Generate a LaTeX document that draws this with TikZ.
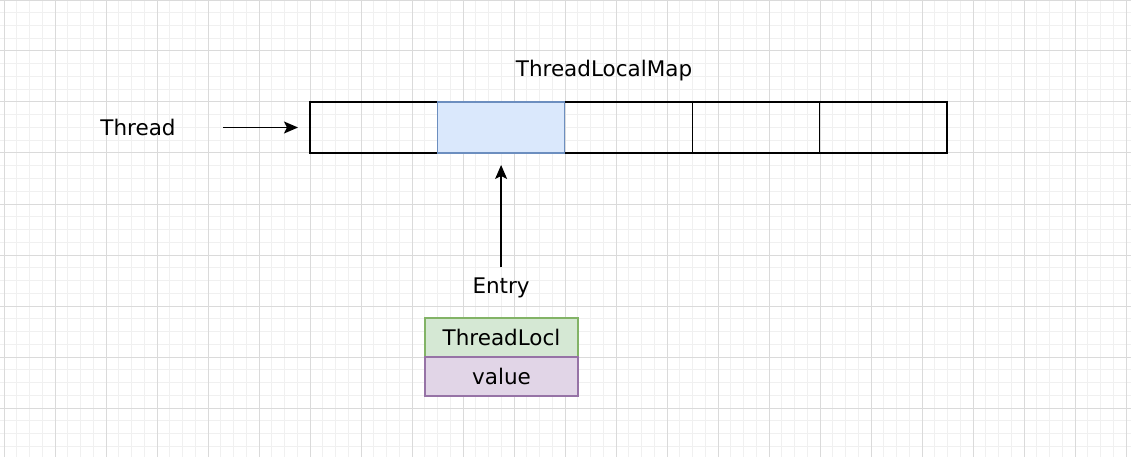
\documentclass[tikz,border=0pt]{standalone}
\usepackage{fontspec}
\setmainfont{DejaVu Sans}
\usetikzlibrary{arrows.meta}

\definecolor{gridminor}{HTML}{F0F0F0}
\definecolor{gridmajor}{HTML}{DADADA}
\definecolor{slotblue}{HTML}{DAE8FC}
\definecolor{slotblueline}{HTML}{6C8EBF}
\definecolor{keygreen}{HTML}{D5E8D4}
\definecolor{keygreenline}{HTML}{82B366}
\definecolor{valpurple}{HTML}{E1D5E7}
\definecolor{valpurpleline}{HTML}{9673A6}

\tikzset{
  slot/.style={draw, rectangle, line width=1.2pt, minimum width=127.4pt, minimum height=51pt, inner sep=0pt, outer sep=0pt},
  field/.style={draw, rectangle, line width=1.2pt, minimum width=153pt, minimum height=39pt, inner sep=0pt, outer sep=0pt},
  label/.style={font=\fontsize{21.5}{25}\selectfont},
  arr/.style={-{Stealth[length=14pt, width=12pt, inset=3pt]}, line width=1.3pt}
}

\begin{document}
\begin{tikzpicture}[x=1pt, y=-1pt]
		\useasboundingbox (0, 0) rectangle (1131, 457);
		% 背景のグリッド
		\fill[white] (0, 0) rectangle (1131, 457);
		\begin{scope}[shift={(4, 0)}, y=1pt]
			\draw[gridminor, line width=1pt, step=12.75] (-4, -457) grid (1127, 0);
			\draw[gridmajor, line width=1pt, step=51] (-4, -457) grid (1127, 0);
		\end{scope}

		% 配列のスロットを描画
		\node[slot] (cell1) at (373.7, 127.5) {};
		\node[slot, fill=slotblue, draw=slotblueline] (cell2) at (501.1, 127.5) {};
		\node[slot] (cell3) at (628.5, 127.5) {};
		\node[slot] (cell4) at (755.9, 127.5) {};
		\node[slot] (cell5) at (883.3, 127.5) {};
		\draw[slotblueline, line width=1.2pt] (cell2.north west) rectangle (cell2.south east);

		% Entry を描画
		\node[field, fill=keygreen, draw=keygreenline, label] (key) at (501.5, 337.5) {ThreadLocl};
		\node[field, fill=valpurple, draw=valpurpleline, label] (val) at (501.5, 376.5) {value};

		% ラベルを描画
		\node[label] (thread) at (138, 127.5) {Thread};
		\node[label] (mapname) at (604, 71) {ThreadLocalMap};
		\node[label] (entry) at (501.1, 288) {Entry};

		% 矢印を描画
		\draw[arr, shorten <=44pt, shorten >=12pt] (thread.east) -- (cell1.west);
		\draw[arr, shorten <=7pt, shorten >=12pt] (entry.north) -- (cell2.south);
	\end{tikzpicture}
\end{document}
